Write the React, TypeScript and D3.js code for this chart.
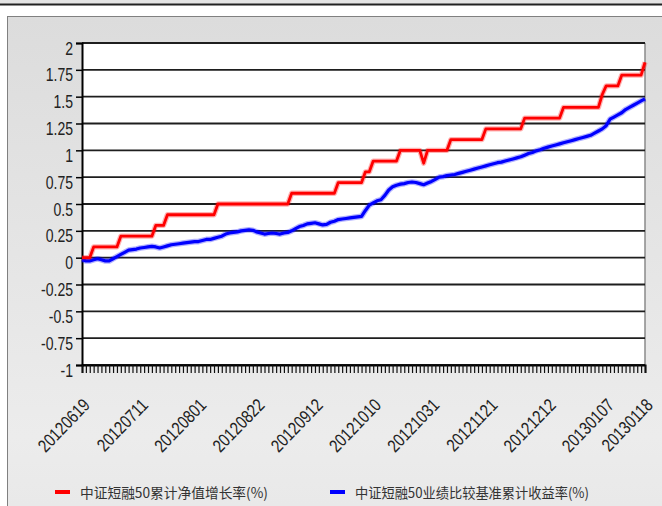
import { useEffect, useRef } from 'react';
import * as d3 from 'd3';

// x-axis labels (every 15 trading days, last one at the final day)
const tickLabels = [
  '20120619', '20120711', '20120801', '20120822', '20120912', '20121010',
  '20121031', '20121121', '20121212', '20130107', '20130118',
];
const tickIndex = [0, 15, 30, 45, 60, 75, 90, 105, 120, 135, 145];

const yTicks = [2, 1.75, 1.5, 1.25, 1, 0.75, 0.5, 0.25, 0, -0.25, -0.5, -0.75, -1];

const seriesNames = ['中证短融50累计净值增长率(%)', '中证短融50业绩比较基准累计收益率(%)'];

// fund cumulative NAV growth (%), one value per trading day
const navGrowth = [
  0, 0, 0, 0.1, 0.1, 0.1, 0.1, 0.1, 0.1, 0.1,
  0.2, 0.2, 0.2, 0.2, 0.2, 0.2, 0.2, 0.2, 0.2, 0.3,
  0.3, 0.3, 0.4, 0.4, 0.4, 0.4, 0.4, 0.4, 0.4, 0.4,
  0.4, 0.4, 0.4, 0.4, 0.4, 0.5, 0.5, 0.5, 0.5, 0.5,
  0.5, 0.5, 0.5, 0.5, 0.5, 0.5, 0.5, 0.5, 0.5, 0.5,
  0.5, 0.5, 0.5, 0.5, 0.6, 0.6, 0.6, 0.6, 0.6, 0.6,
  0.6, 0.6, 0.6, 0.6, 0.6, 0.6, 0.7, 0.7, 0.7, 0.7,
  0.7, 0.7, 0.7, 0.8, 0.8, 0.9, 0.9, 0.9, 0.9, 0.9,
  0.9, 0.9, 1.0, 1.0, 1.0, 1.0, 1.0, 1.0, 0.88, 1.0,
  1.0, 1.0, 1.0, 1.0, 1.0, 1.1, 1.1, 1.1, 1.1, 1.1,
  1.1, 1.1, 1.1, 1.1, 1.2, 1.2, 1.2, 1.2, 1.2, 1.2,
  1.2, 1.2, 1.2, 1.2, 1.3, 1.3, 1.3, 1.3, 1.3, 1.3,
  1.3, 1.3, 1.3, 1.3, 1.4, 1.4, 1.4, 1.4, 1.4, 1.4,
  1.4, 1.4, 1.4, 1.4, 1.52, 1.6, 1.6, 1.6, 1.6, 1.7,
  1.7, 1.7, 1.7, 1.7, 1.7, 1.82,
];

// benchmark cumulative return (%)
const benchmark = [
  -0.02, -0.03, -0.03, -0.02, -0.01, -0.02, -0.03, -0.03, -0.01, 0.01,
  0.03, 0.05, 0.07, 0.075, 0.08, 0.09, 0.095, 0.1, 0.105, 0.1,
  0.09, 0.1, 0.11, 0.12, 0.125, 0.13, 0.135, 0.14, 0.145, 0.15,
  0.15, 0.16, 0.17, 0.17, 0.18, 0.19, 0.2, 0.22, 0.23, 0.235,
  0.24, 0.25, 0.255, 0.26, 0.255, 0.24, 0.23, 0.22, 0.225, 0.23,
  0.225, 0.22, 0.23, 0.235, 0.25, 0.27, 0.29, 0.3, 0.315, 0.32,
  0.325, 0.315, 0.305, 0.31, 0.33, 0.34, 0.355, 0.36, 0.365, 0.37,
  0.375, 0.38, 0.385, 0.44, 0.49, 0.51, 0.53, 0.54, 0.58, 0.63,
  0.66, 0.675, 0.685, 0.69, 0.7, 0.705, 0.7, 0.69, 0.68, 0.695,
  0.71, 0.73, 0.75, 0.755, 0.765, 0.77, 0.775, 0.785, 0.795, 0.805,
  0.815, 0.825, 0.835, 0.845, 0.855, 0.865, 0.875, 0.885, 0.89, 0.9,
  0.91, 0.92, 0.93, 0.94, 0.955, 0.97, 0.98, 0.995, 1.005, 1.02,
  1.03, 1.04, 1.05, 1.06, 1.07, 1.08, 1.09, 1.1, 1.11, 1.12,
  1.13, 1.14, 1.16, 1.18, 1.2, 1.23, 1.29, 1.31, 1.33, 1.35,
  1.38, 1.4, 1.42, 1.44, 1.46, 1.48,
];

export default function App() {
  const svgRef = useRef<SVGSVGElement>(null);

  useEffect(() => {
    const svg = d3.select(svgRef.current);
    const width = 662;
    const height = 506;
    const plot = { left: 82, right: 645, top: 43, bottom: 365 };

    svg.selectAll('*').remove();

    const grad = svg
      .append('defs')
      .append('linearGradient')
      .attr('id', 'panelBg')
      .attr('x1', 0)
      .attr('y1', 0)
      .attr('x2', 0)
      .attr('y2', 1);
    grad.append('stop').attr('offset', '0%').attr('stop-color', '#dcdcdc');
    grad.append('stop').attr('offset', '70%').attr('stop-color', '#ececec');
    grad.append('stop').attr('offset', '100%').attr('stop-color', '#e4e4e4');

    svg.append('rect').attr('width', width).attr('height', height).attr('fill', '#fff');
    svg.append('rect').attr('width', width).attr('height', 4).attr('fill', '#e4e4e4');
    svg
      .append('line')
      .attr('x1', 0)
      .attr('x2', width)
      .attr('y1', 4.5)
      .attr('y2', 4.5)
      .attr('stroke', '#222')
      .attr('stroke-width', 2);
    svg
      .append('rect')
      .attr('x', 7.5)
      .attr('y', 16.5)
      .attr('width', 700)
      .attr('height', 600)
      .attr('fill', 'url(#panelBg)')
      .attr('stroke', '#808080');

    const x = d3
      .scaleLinear()
      .domain([0, navGrowth.length - 1])
      .range([plot.left, plot.right]);
    const y = d3.scaleLinear().domain([-1, 2]).range([plot.bottom, plot.top]);

    svg
      .append('rect')
      .attr('x', plot.left)
      .attr('y', plot.top)
      .attr('width', plot.right - plot.left)
      .attr('height', plot.bottom - plot.top)
      .attr('fill', '#fff');
    svg
      .append('line')
      .attr('x1', plot.right)
      .attr('x2', plot.right)
      .attr('y1', plot.top)
      .attr('y2', plot.bottom)
      .attr('stroke', '#8a8a8a')
      .attr('stroke-width', 1.5);

    // horizontal grid
    svg
      .append('g')
      .selectAll('line')
      .data(yTicks)
      .join('line')
      .attr('x1', plot.left)
      .attr('x2', plot.right)
      .attr('y1', (d) => y(d))
      .attr('y2', (d) => y(d))
      .attr('stroke', '#1e1e1e')
      .attr('stroke-width', 1.8);

    // y axis
    const yAxis = svg
      .append('g')
      .attr('transform', `translate(${plot.left},0)`)
      .call(
        d3
          .axisLeft(y)
          .tickValues(yTicks)
          .tickSize(6)
          .tickFormat((d) => String(d))
      );
    yAxis.select('.domain').attr('stroke', '#000').attr('stroke-width', 2);
    yAxis.selectAll('.tick line').attr('stroke', '#000').attr('stroke-width', 1.5);
    yAxis
      .selectAll('.tick text')
      .attr('font-family', '"Liberation Sans", Arial, sans-serif')
      .attr('font-size', 18)
      .attr('fill', '#222')
      .attr('dy', 11)
      .attr('x', -11.5)
      .attr('transform', 'scale(0.78,1)');

    // x axis: one tick per trading day
    const xAxis = svg
      .append('g')
      .attr('transform', `translate(0,${plot.bottom})`)
      .call(
        d3
          .axisBottom(x)
          .tickValues(d3.range(navGrowth.length))
          .tickSize(8)
          .tickFormat(() => '')
      );
    xAxis.select('.domain').attr('stroke', '#000').attr('stroke-width', 2);
    xAxis.selectAll('.tick line').attr('stroke', '#111').attr('stroke-width', 1.2);

    svg
      .append('g')
      .selectAll('text')
      .data(tickLabels)
      .join('text')
      .attr('transform', (d, i) => `translate(${x(tickIndex[i]) + 9},406) rotate(-46) scale(0.82,1)`)
      .attr('text-anchor', 'end')
      .attr('font-family', '"Liberation Sans", Arial, sans-serif')
      .attr('font-size', 18)
      .attr('fill', '#222')
      .text((d) => d);

    const line = d3
      .line<number>()
      .x((d, i) => x(i))
      .y((d) => y(d));

    const drawSeries = (data: number[], color: string, w: number) => {
      svg
        .append('path')
        .datum(data)
        .attr('fill', 'none')
        .attr('stroke', color)
        .attr('stroke-opacity', 0.3)
        .attr('stroke-width', w + 2.5)
        .attr('stroke-linejoin', 'round')
        .attr('d', line);
      svg
        .append('path')
        .datum(data)
        .attr('fill', 'none')
        .attr('stroke', color)
        .attr('stroke-width', w)
        .attr('stroke-linejoin', 'round')
        .attr('d', line);
    };
    drawSeries(benchmark, '#0000ff', 3.2);
    drawSeries(navGrowth, '#ff0000', 2.8);

    // legend
    const legend = [
      { name: seriesNames[0], color: '#ff0000', x: 55, len: 188 },
      { name: seriesNames[1], color: '#0000ff', x: 330, len: 234 },
    ];
    const lg = svg.append('g');
    lg.selectAll('rect')
      .data(legend)
      .join('rect')
      .attr('x', (d) => d.x)
      .attr('y', 490)
      .attr('width', 15)
      .attr('height', 4)
      .attr('fill', (d) => d.color);
    lg.selectAll('text')
      .data(legend)
      .join('text')
      .attr('x', (d) => d.x + 25)
      .attr('y', 498)
      .attr('textLength', (d) => d.len)
      .attr('lengthAdjust', 'spacingAndGlyphs')
      .attr('font-family', '"Noto Sans CJK SC", sans-serif')
      .attr('font-size', 14)
      .attr('fill', '#333')
      .text((d) => d.name);
  }, []);

  return (
    <svg
      ref={svgRef}
      width={662}
      height={506}
      style={{ position: 'absolute', left: 0, top: 0 }}
    />
  );
}
